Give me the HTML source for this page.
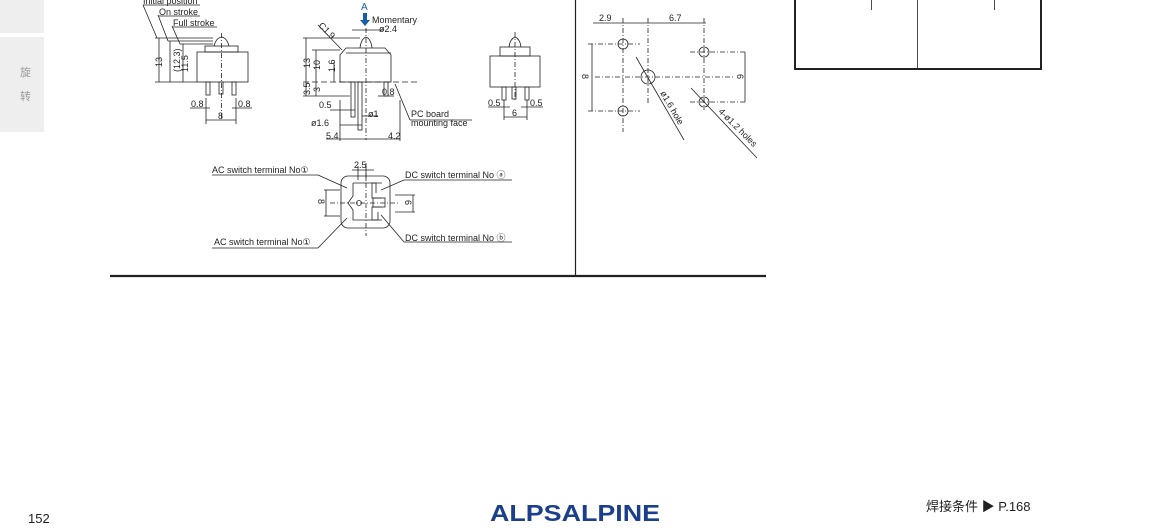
<!DOCTYPE html>
<html><head><meta charset="utf-8"><style>
body{margin:0;width:1150px;height:529px;background:#fff;overflow:hidden;position:relative;font-family:"Liberation Sans","Noto Sans CJK SC",sans-serif}
.sb{position:absolute;left:0;width:44px;background:#eeeeee}
</style></head><body>
<div class="sb" style="top:0;height:33px"></div>
<div class="sb" style="top:37px;height:95px"></div>
<div style="position:absolute;left:20px;top:64px;font-size:11px;color:#999;font-family:'Noto Sans CJK SC',sans-serif">旋</div>
<div style="position:absolute;left:20px;top:88px;font-size:11px;color:#999;font-family:'Noto Sans CJK SC',sans-serif">转</div>
<svg width="1150" height="529" style="position:absolute;left:0;top:0" font-family="Liberation Sans, sans-serif" font-size="9">
<g stroke="#222" fill="none" stroke-width="0.8">
<line x1="110" y1="276" x2="766" y2="276" stroke-width="2.2"/>
<line x1="575.5" y1="0" x2="575.5" y2="276" stroke-width="1.2"/>
<rect x="795" y="-2" width="246" height="71" stroke-width="2"/>
<line x1="917.5" y1="0" x2="917.5" y2="69"/>
<line x1="871.5" y1="0" x2="871.5" y2="10"/>
<line x1="994.5" y1="0" x2="994.5" y2="10"/>

<rect x="197" y="52" width="51" height="30"/>
<rect x="205" y="46" width="33" height="6"/>
<path d="M214 46 Q216 38 221.5 37 Q227 38 229 46"/>
<line x1="221.5" y1="33" x2="221.5" y2="120" stroke-dasharray="5 2 1 2"/>
<rect x="206" y="82" width="4" height="13"/><rect x="219" y="82" width="4" height="12"/><rect x="232" y="82" width="4" height="13"/>
<line x1="155" y1="38" x2="213" y2="38"/><line x1="168" y1="41" x2="213" y2="41"/><line x1="180" y1="44" x2="213" y2="44"/>
<line x1="155" y1="82" x2="197" y2="82"/>
<line x1="159" y1="38" x2="159" y2="82"/><line x1="170" y1="41" x2="170" y2="82"/><line x1="183" y1="44" x2="183" y2="82"/>
<path d="M143 5 L157 38 M158 15 L168 41 M172 26 L180 44"/>
<line x1="143" y1="5" x2="200" y2="5"/><line x1="158" y1="16" x2="200" y2="16"/><line x1="172" y1="27" x2="217" y2="27"/>
<line x1="206" y1="98" x2="206" y2="124"/><line x1="236" y1="98" x2="236" y2="124"/>
<line x1="190" y1="108" x2="210" y2="108"/><line x1="232" y1="108" x2="252" y2="108"/>
<line x1="206" y1="120" x2="236" y2="120"/>

<path d="M340 82 L340 55 L346 48 L385 48 L391 55 L391 82 Z"/>
<line x1="346" y1="53" x2="391" y2="53"/>
<path d="M360 48 Q361 39 366 37 Q371 39 372 48"/>
<line x1="366" y1="28" x2="366" y2="140" stroke-dasharray="5 2 1 2"/>
<rect x="351" y="82" width="4" height="35"/><rect x="358" y="82" width="4" height="48"/><rect x="384" y="82" width="4" height="14"/>
<line x1="303" y1="38" x2="360" y2="38"/><line x1="312" y1="50" x2="340" y2="50"/><line x1="303" y1="82" x2="420" y2="82" stroke-dasharray="6 3"/>
<line x1="306" y1="38" x2="306" y2="96"/><line x1="316" y1="50" x2="316" y2="82"/><line x1="334" y1="62" x2="334" y2="82"/>
<line x1="303" y1="96" x2="350" y2="96"/><line x1="316" y1="82" x2="316" y2="96"/>
<line x1="318" y1="25" x2="342" y2="50"/>
<line x1="330" y1="110" x2="355" y2="110"/><line x1="340" y1="125" x2="362" y2="125"/><line x1="326" y1="139" x2="400" y2="139"/>
<line x1="340" y1="100" x2="340" y2="141"/><line x1="400" y1="100" x2="400" y2="141"/>
<line x1="362" y1="116" x2="378" y2="116"/>
<line x1="378" y1="96" x2="394" y2="96"/>
<line x1="395" y1="84" x2="410" y2="120"/><line x1="410" y1="120" x2="472" y2="120"/>
<line x1="352" y1="30" x2="384" y2="30"/>

<rect x="490" y="56" width="50" height="31"/>
<rect x="500" y="47" width="30" height="9"/>
<path d="M509 47 Q510 39 515 37 Q520 39 521 47"/>
<line x1="515" y1="32" x2="515" y2="100" stroke-dasharray="5 2 1 2"/>
<rect x="502" y="87" width="4" height="13"/><rect x="512" y="87" width="4" height="12"/><rect x="525" y="87" width="4" height="13"/>
<line x1="504" y1="100" x2="504" y2="120"/><line x1="527" y1="100" x2="527" y2="120"/>
<line x1="488" y1="107" x2="510" y2="107"/><line x1="521" y1="107" x2="543" y2="107"/><line x1="504" y1="117" x2="527" y2="117"/>

<rect x="341" y="176" width="49" height="52" rx="7"/>
<path d="M353 183 L376 183 L376 193 M353 183 L353 196 L348 203 L353 210 L353 220 L378 220 L378 212"/>
<path d="M382 183 L372 183 L372 198 L382 198 M382 220 L372 220 L372 207 L382 207"/>
<rect x="373" y="198" width="12" height="9"/>
<circle cx="359" cy="203" r="2.5"/>
<line x1="330" y1="203" x2="400" y2="203" stroke-dasharray="5 2 1 2"/>
<line x1="366" y1="163" x2="366" y2="236" stroke-dasharray="5 2 1 2"/>
<line x1="358" y1="166" x2="358" y2="180"/><line x1="366" y1="166" x2="366" y2="180"/><line x1="352" y1="170" x2="374" y2="170"/>
<line x1="324" y1="190" x2="340" y2="190"/><line x1="324" y1="216" x2="340" y2="216"/><line x1="326" y1="190" x2="326" y2="216"/>
<line x1="395" y1="195" x2="415" y2="195"/><line x1="395" y1="212" x2="415" y2="212"/><line x1="413" y1="195" x2="413" y2="212"/>
<line x1="212" y1="175" x2="318" y2="175"/><line x1="318" y1="175" x2="347" y2="188"/>
<line x1="212" y1="248" x2="318" y2="248"/><line x1="318" y1="248" x2="347" y2="218"/>
<line x1="404" y1="180" x2="512" y2="180"/><line x1="404" y1="180" x2="381" y2="190"/>
<line x1="404" y1="242" x2="512" y2="242"/><line x1="404" y1="242" x2="381" y2="215"/>

<line x1="593" y1="23" x2="706" y2="23"/>
<line x1="623" y1="18" x2="623" y2="132" stroke-dasharray="5 2 1 2"/>
<line x1="648" y1="18" x2="648" y2="103" stroke-dasharray="5 2 1 2"/>
<line x1="704" y1="18" x2="704" y2="110" stroke-dasharray="5 2 1 2"/>
<line x1="595" y1="77" x2="735" y2="77" stroke-dasharray="5 2 1 2"/>
<line x1="588" y1="44" x2="640" y2="44" stroke-dasharray="5 2 1 2"/><line x1="588" y1="111" x2="640" y2="111" stroke-dasharray="5 2 1 2"/>
<line x1="690" y1="52" x2="746" y2="52" stroke-dasharray="5 2 1 2"/><line x1="690" y1="102" x2="746" y2="102" stroke-dasharray="5 2 1 2"/>
<line x1="592" y1="44" x2="592" y2="111"/><line x1="745" y1="52" x2="745" y2="102"/>
<circle cx="623" cy="44" r="5"/><circle cx="623" cy="111" r="5"/>
<circle cx="648" cy="77" r="7"/>
<circle cx="704" cy="52" r="5"/><circle cx="704" cy="102" r="5"/>
<line x1="636" y1="57" x2="684" y2="140"/>
<line x1="691" y1="88" x2="757" y2="158"/>
</g>
<g fill="#222">
<text x="143" y="4">Initial position</text>
<text x="159" y="15">On stroke</text>
<text x="173" y="26">Full stroke</text>
<text transform="translate(162,67) rotate(-90)">13</text>
<text transform="translate(180,72) rotate(-90)">(12.3)</text>
<text transform="translate(188,72) rotate(-90)">11.5</text>
<text x="191" y="107">0.8</text><text x="238" y="107">0.8</text><text x="218" y="119">8</text>

<text x="361" y="10" fill="#1a5ea8" font-size="10">A</text>
<path d="M363 13 h4 v7 h3 l-5 6 l-5 -6 h3 z" fill="#1a5ea8"/>
<text x="372" y="23">Momentary</text>
<text x="379" y="32">ø2.4</text>
<text transform="translate(318,26) rotate(45)">C1.9</text>
<text transform="translate(310,68) rotate(-90)">13</text>
<text transform="translate(320,70) rotate(-90)">10</text>
<text transform="translate(335,72) rotate(-90)">1.6</text>
<text transform="translate(310,95) rotate(-90)">3.5</text>
<text transform="translate(320,92) rotate(-90)">3</text>
<text x="319" y="108">0.5</text><text x="368" y="117">ø1</text><text x="311" y="126">ø1.6</text>
<text x="326" y="139">5.4</text><text x="388" y="139">4.2</text><text x="382" y="95">0.8</text>
<text x="411" y="117">PC board</text><text x="411" y="126">mounting face</text>

<text x="488" y="106">0.5</text><text x="530" y="106">0.5</text><text x="512" y="116">6</text>

<text x="212" y="173">AC switch terminal No①</text>
<text x="214" y="245">AC switch terminal No①</text>
<text x="405" y="178">DC switch terminal No ⓐ</text>
<text x="405" y="241">DC switch terminal No ⓑ</text>
<text x="354" y="168">2.5</text>
<text transform="translate(318,199) rotate(90)">8</text>
<text transform="translate(405,200) rotate(90)">6</text>

<text x="599" y="21">2.9</text><text x="669" y="21">6.7</text>
<text transform="translate(582,74) rotate(90)">8</text>
<text transform="translate(737,74) rotate(90)">6</text>
<text transform="translate(660,93) rotate(60)">ø1.6 hole</text>
<text transform="translate(718,112) rotate(45)">4-ø1.2 holes</text>
</g>
<text x="28" y="523" font-size="13" fill="#222">152</text>
<text x="490" y="521" font-size="23" font-weight="bold" fill="#1b3f8c" textLength="170" lengthAdjust="spacingAndGlyphs">ALPSALPINE</text>
<text x="926" y="511" font-size="13" fill="#222" font-family="Liberation Sans, Noto Sans CJK SC, sans-serif">焊接条件 ▶ P.168</text>
</svg>
</body></html>
